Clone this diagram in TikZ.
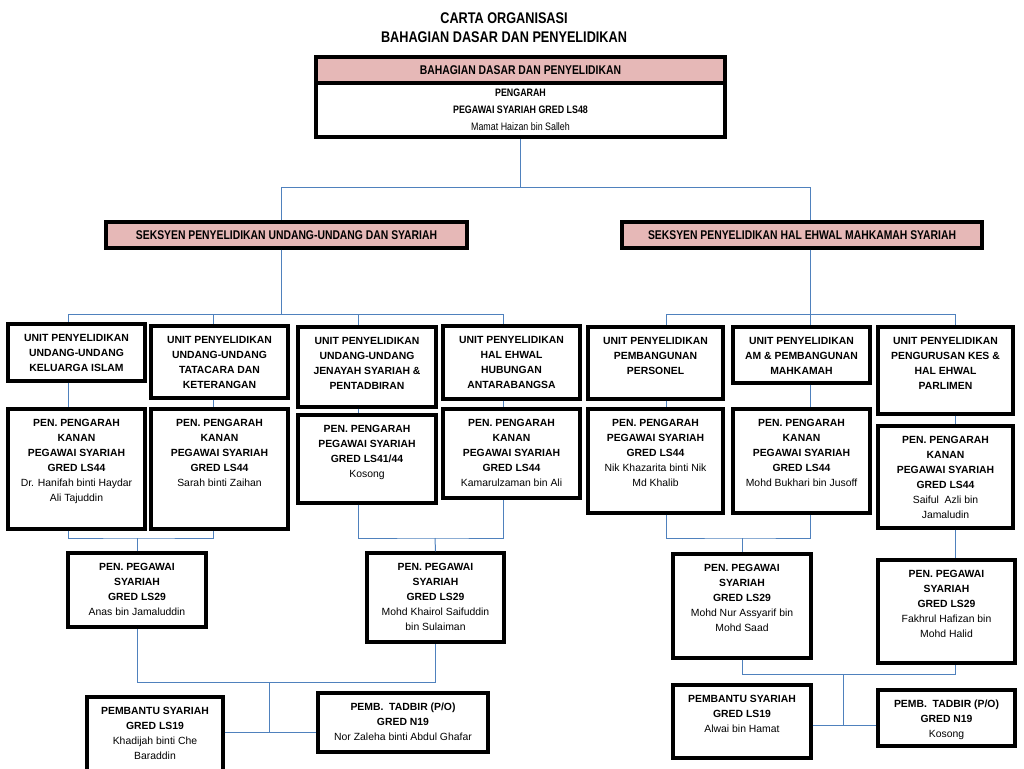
\documentclass[tikz,border=0pt]{standalone}
\usepackage{fontspec}
\usepackage{xcolor}
\usepackage{tikz}
\setmainfont{Liberation Sans}
\newfontfamily\narrow{Liberation Sans}[FakeStretch=0.82]
\definecolor{headpink}{HTML}{E6B8B7}
\definecolor{linkblue}{HTML}{4F81BD}
\newcommand\nm[1]{{\mdseries #1}}
\tikzset{
  box/.style={draw=black, line width=2.4pt, fill=white, inner sep=0pt},
  sz/.style 2 args={minimum width=#1*0.25mm, minimum height=#2*0.25mm},
  head/.style={box, fill=headpink, font=\narrow\bfseries\fontsize{9}{11}\selectfont},
  lbl/.style={anchor=north, yshift=-2.9mm, inner sep=0pt, align=center,
    font=\bfseries\fontsize{7.4}{10.7}\selectfont},
  txt/.style={label={[lbl]north:{#1}}},
  link/.style={draw=linkblue, line width=0.7pt},
}
\begin{document}
\begin{tikzpicture}[x=0.25mm, y=-0.25mm]
\useasboundingbox (0,0) rectangle (1024,768);
% title
\node[align=center, font=\narrow\bfseries\fontsize{11}{13.5}\selectfont] (title) at (504,27.5)
  {CARTA ORGANISASI\\BAHAGIAN DASAR DAN PENYELIDIKAN};
% pengarah
\node[head, sz={409}{26}] (hdr) at (520.5,70) {BAHAGIAN DASAR DAN PENYELIDIKAN};
\node[box, sz={409}{54}, align=center, font=\narrow\bfseries\fontsize{7.7}{12.1}\selectfont] (dir) at (520.5,110)
  {PENGARAH\\PEGAWAI SYARIAH GRED LS48\\\nm{Mamat Haizan bin Salleh}};
% seksyen
\node[head, sz={361}{26}] (sec1) at (286.5,235) {SEKSYEN PENYELIDIKAN UNDANG-UNDANG DAN SYARIAH};
\node[head, sz={360}{26}] (sec2) at (802,235) {SEKSYEN PENYELIDIKAN HAL EHWAL MAHKAMAH SYARIAH};
% unit
\node[box, sz={137}{57}, txt={UNIT PENYELIDIKAN\\UNDANG-UNDANG\\KELUARGA ISLAM}] (u1) at (76.5,352.5) {};
\node[box, sz={137}{72}, txt={UNIT PENYELIDIKAN\\UNDANG-UNDANG\\TATACARA DAN\\KETERANGAN}] (u2) at (219.5,362) {};
\node[box, sz={138}{80}, txt={UNIT PENYELIDIKAN\\UNDANG-UNDANG\\JENAYAH SYARIAH \&\\PENTADBIRAN}] (u3) at (367,367) {};
\node[box, sz={137}{73}, txt={UNIT PENYELIDIKAN\\HAL EHWAL\\HUBUNGAN\\ANTARABANGSA}] (u4) at (511.5,362.5) {};
\node[box, sz={135}{72}, txt={UNIT PENYELIDIKAN\\PEMBANGUNAN\\PERSONEL}] (u5) at (655.5,363) {};
\node[box, sz={137}{56}, txt={UNIT PENYELIDIKAN\\AM \& PEMBANGUNAN\\MAHKAMAH}] (u6) at (801.5,355) {};
\node[box, sz={135}{87}, txt={UNIT PENYELIDIKAN\\PENGURUSAN KES \&\\HAL EHWAL\\PARLIMEN}] (u7) at (945.5,370.5) {};
% pen. pengarah
\node[box, sz={137}{120}, txt={PEN. PENGARAH\\KANAN\\PEGAWAI SYARIAH\\GRED LS44\\\nm{Dr. Hanifah binti Haydar}\\\nm{Ali Tajuddin}}] (p1) at (76.5,469) {};
\node[box, sz={137}{120}, txt={PEN. PENGARAH\\KANAN\\PEGAWAI SYARIAH\\GRED LS44\\\nm{Sarah binti Zaihan}}] (p2) at (219.5,469) {};
\node[box, sz={138}{88}, txt={PEN. PENGARAH\\PEGAWAI SYARIAH\\GRED LS41/44\\\nm{Kosong}}] (p3) at (367,459) {};
\node[box, sz={137}{89}, txt={PEN. PENGARAH\\KANAN\\PEGAWAI SYARIAH\\GRED LS44\\\nm{Kamarulzaman bin Ali}}] (p4) at (511.5,453.5) {};
\node[box, sz={135}{104}, txt={PEN. PENGARAH\\PEGAWAI SYARIAH\\GRED LS44\\\nm{Nik Khazarita binti Nik}\\\nm{Md Khalib}}] (p5) at (655.5,461) {};
\node[box, sz={137}{104}, txt={PEN. PENGARAH\\KANAN\\PEGAWAI SYARIAH\\GRED LS44\\\nm{Mohd Bukhari bin Jusoff}}] (p6) at (801.5,461) {};
\node[box, sz={135}{102}, txt={PEN. PENGARAH\\KANAN\\PEGAWAI SYARIAH\\GRED LS44\\\nm{Saiful\ \ Azli bin}\\\nm{Jamaludin}}] (p7) at (945.5,477) {};
% pen. pegawai
\node[box, sz={138}{74}, txt={PEN. PEGAWAI\\SYARIAH\\GRED LS29\\\nm{Anas bin Jamaluddin}}] (pp1) at (137,590) {};
\node[box, sz={137}{89}, txt={PEN. PEGAWAI\\SYARIAH\\GRED LS29\\\nm{Mohd Khairol Saifuddin}\\\nm{bin Sulaiman}}] (pp2) at (435.5,597.5) {};
\node[box, sz={138}{104}, txt={PEN. PEGAWAI\\SYARIAH\\GRED LS29\\\nm{Mohd Nur Assyarif bin}\\\nm{Mohd Saad}}] (pp3) at (742,606) {};
\node[box, sz={137}{103}, txt={PEN. PEGAWAI\\SYARIAH\\GRED LS29\\\nm{Fakhrul Hafizan bin}\\\nm{Mohd Halid}}] (pp4) at (946.5,611.5) {};
% pembantu
\node[box, sz={136}{83}, txt={PEMBANTU SYARIAH\\GRED LS19\\\nm{Khadijah binti Che}\\\nm{Baraddin}}] (pb1) at (155,738.5) {};
\node[box, sz={170}{59}, txt={PEMB.\ \ TADBIR (P/O)\\GRED N19\\\nm{Nor Zaleha binti Abdul Ghafar}}] (pt1) at (403,722.5) {};
\node[box, sz={138}{73}, txt={PEMBANTU SYARIAH\\GRED LS19\\\nm{Alwai bin Hamat}}] (pb2) at (742,721.5) {};
\node[box, sz={137}{56}, txt={PEMB.\ \ TADBIR (P/O)\\GRED N19\\\nm{Kosong}}] (pt2) at (946.5,718) {};
% lines
\coordinate (busA) at (521,187);
\coordinate (busL) at (281,187);
\coordinate (busR) at (810,187);
\draw[link] (dir.south) -- (dir.south |- busA);
\draw[link] (busL) -- (busR);
\draw[link] (busL) -- (busL |- sec1.north);
\draw[link] (busR) -- (busR |- sec2.north);
\foreach \i/\x in {1/68,2/213,3/358,4/503,5/666,6/810,7/955}
  \coordinate (k\i) at (\x,314);
\draw[link] (k1) -- (k4);
\draw[link] (k5) -- (k7);
\draw[link] (sec1.south -| busL) -- (busL |- k1);
\draw[link] (sec2.south -| busR) -- (busR |- k6);
\foreach \i in {1,...,7} {
  \draw[link] (k\i) -- (k\i |- u\i.north);
  \draw[link] (u\i.south -| k\i) -- (p\i.north -| k\i);
}
\coordinate (m12) at (137,538);
\coordinate (m34) at (435,538);
\coordinate (m56) at (742,538);
\draw[link] (p1.south -| k1) |- (m12) -| (p2.south -| k2);
\draw[link] (m12) -- (pp1.north);
\draw[link] (p3.south -| k3) |- (m34) -| (p4.south -| k4);
\draw[link] (m34) -- (pp2.north);
\draw[link] (p5.south -| k5) |- (m56) -| (p6.south -| k6);
\draw[link] (m56) -- (pp3.north);
\draw[link] (p7.south -| k7) -- (pp4.north -| k7);
\coordinate (n1) at (269,682);
\coordinate (n2) at (269,732);
\draw[link] (pp1.south) |- (n1) -| (pp2.south);
\draw[link] (n1) -- (n2);
\draw[link] (pb1.east |- n2) -- (pt1.west |- n2);
\coordinate (n3) at (843,674);
\coordinate (n4) at (843,725);
\draw[link] (pp3.south) |- (n3) -| (pp4.south -| k7);
\draw[link] (n3) -- (n4);
\draw[link] (pb2.east |- n4) -- (pt2.west |- n4);
\end{tikzpicture}
\end{document}
